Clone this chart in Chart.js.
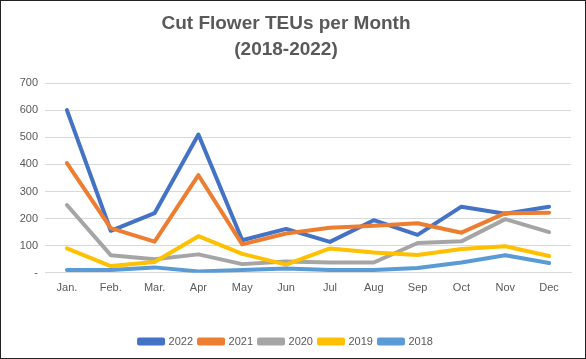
<!DOCTYPE html>
<html>
<head>
<meta charset="utf-8">
<script src="https://cdn.jsdelivr.net/npm/chart.js@4"></script>
<style>
    body { margin: 0; background: #fff; }
    #wrap { width: 586px; height: 359px; box-sizing: border-box; border: 1px solid #222; }
    #wrap canvas { display: block; }
</style>
</head>
<body>
<div id="wrap"><canvas id="lineChart" width="584" height="357"></canvas></div>
<script>
const months = ["Jan.", "Feb.", "Mar.", "Apr", "May", "Jun", "Jul", "Aug", "Sep", "Oct", "Nov", "Dec"];
const yearLabels = ["2022", "2021", "2020", "2019", "2018"];
const teus2022 = [600, 155, 220, 510, 120, 162, 114, 194, 140, 244, 218, 244];
const teus2021 = [405, 165, 115, 360, 105, 145, 166, 174, 183, 148, 220, 222];
const teus2020 = [250, 65, 50, 68, 32, 42, 38, 38, 110, 116, 198, 150];
const teus2019 = [90, 25, 40, 135, 70, 30, 90, 75, 66, 88, 98, 62];
const teus2018 = [10, 10, 20, 5, 10, 16, 10, 10, 18, 38, 65, 36];
const yTicks = [0, 100, 200, 300, 400, 500, 600, 700];

const textColor = '#595959';
const lineColors = ['#4472C4', '#ED7D31', '#A5A5A5', '#FFC000', '#5B9BD5'];
const allSeries = [teus2022, teus2021, teus2020, teus2019, teus2018];

// excel paints the last series on top, chart.js paints index 0 on top -> reverse
const datasets = [];
for (let i = allSeries.length - 1; i >= 0; i--) {
    datasets.push({
        label: yearLabels[i],
        data: allSeries[i],
        borderColor: lineColors[i],
        backgroundColor: lineColors[i],
        borderWidth: 4,
        borderJoinStyle: 'round',
        borderCapStyle: 'round',
        pointRadius: 0,
        tension: 0,
        fill: false
    });
}

const ctx = document.getElementById('lineChart').getContext('2d');
new Chart(ctx, {
    type: 'line',
    data: { labels: months, datasets: datasets },
    options: {
        responsive: false,
        animation: false,
        layout: { padding: { left: 0, right: 14, top: 0, bottom: 1 } },
        scales: {
            x: {
                offset: true,
                grid: { display: false, drawTicks: false },
                border: { display: true, color: '#D9D9D9', width: 1 },
                ticks: {
                    color: textColor,
                    font: { family: "'Liberation Sans', sans-serif", size: 11 },
                    padding: 9,
                    maxRotation: 0,
                    autoSkip: false
                },
                // leave the empty band between month labels and legend
                afterFit: function (axis) { axis.height = axis.height + 26; }
            },
            y: {
                min: 0,
                max: 700,
                afterBuildTicks: function (axis) {
                    axis.ticks = yTicks.map(v => ({ value: v }));
                },
                afterFit: function (axis) { axis.width = 44; },
                grid: { color: '#D9D9D9', drawTicks: false },
                border: { display: false },
                ticks: {
                    color: textColor,
                    font: { family: "'Liberation Sans', sans-serif", size: 11 },
                    padding: 7,
                    callback: function (value) { return value === 0 ? '-' : value; }
                }
            }
        },
        plugins: {
            title: {
                display: true,
                text: ['Cut Flower TEUs per Month', '(2018-2022)'],
                color: textColor,
                font: { family: "'Liberation Sans', sans-serif", size: 19, weight: 'bold', lineHeight: 1.37 },
                padding: { top: 10, bottom: 20 }
            },
            legend: {
                position: 'bottom',
                reverse: true,
                labels: {
                    color: textColor,
                    font: { family: "'Liberation Sans', sans-serif", size: 11 },
                    boxWidth: 24,
                    boxHeight: 4,
                    padding: 6
                }
            },
            tooltip: { enabled: false }
        }
    }
});
</script>
</body>
</html>
